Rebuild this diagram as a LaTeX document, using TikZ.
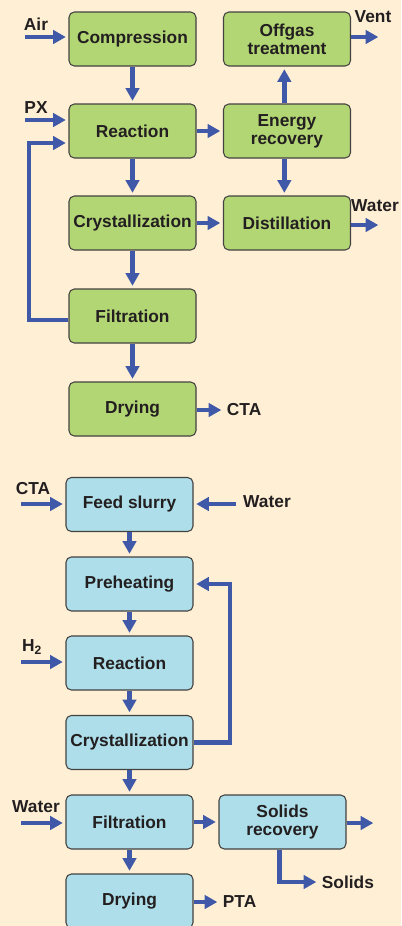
\documentclass[tikz,border=0pt]{standalone}
\usepackage{fontspec}
\setmainfont{Liberation Sans}
\usepackage{tikz}
\usetikzlibrary{arrows.meta}
\definecolor{paper}{HTML}{FFF0D5}
\definecolor{boxgreen}{HTML}{B3D675}
\definecolor{boxblue}{HTML}{ADDEE9}
\definecolor{flowblue}{HTML}{3F58A8}
\definecolor{ink}{HTML}{231F20}

\begin{document}
\begin{tikzpicture}[x=0.75pt, y=-0.75pt,
		every node/.style={font=\bfseries\fontsize{13}{13.3}\selectfont, text=ink},
		unit/.style={draw=ink!85, line width=0.8pt, rounded corners=4pt, minimum width=95.25pt, minimum height=40.5pt, align=center, inner sep=1pt},
		oxunit/.style={unit, fill=boxgreen},
		hyunit/.style={unit, fill=boxblue},
		tag/.style={inner sep=2pt},
		flow/.style={draw=flowblue, line width=3.6pt, -{Triangle[length=9.5pt,width=10pt]}, shorten >=2pt}]
		%%%%% START %%%%%
		
		\fill[paper] (0,0) rectangle (401,926);
		\useasboundingbox (0,0) rectangle (401,926);
		
		% oxidation
		\node[oxunit] (compression) at (132.5, 39) {Compression};
		\node[oxunit] (offgas) at (287, 39) {Offgas\\treatment};
		\node[oxunit] (reaction) at (132.5, 131) {Reaction};
		\node[oxunit] (energy) at (287, 131) {Energy\\recovery};
		\node[oxunit] (crystallization) at (132.5, 223) {Crystallization};
		\node[oxunit] (distillation) at (287, 223) {Distillation};
		\node[oxunit] (filtration) at (132.5, 316) {Filtration};
		\node[oxunit] (drying) at (132.5, 409) {Drying};
		
		\node[tag] (air) at (36, 24) {Air};
		\node[tag] (px) at (36, 108) {PX};
		\node[tag] (vent) at (373, 17) {Vent};
		\node[tag] (waterup) at (375, 206) {Water};
		\node[tag, anchor=west] (cta) at (224, 410) {CTA};
		
		\coordinate (airin) at (25, 37);
		\coordinate (pxin) at (25, 120);
		\coordinate (ventout) at (381, 37);
		\coordinate (waterout) at (381, 225);
		\coordinate (loopa) at (29, 143);
		
		\draw[flow] (airin) -- (airin -| compression.west);
		\draw[flow] (pxin) -- (pxin -| reaction.west);
		\draw[flow] (ventout -| offgas.east) -- (ventout);
		\draw[flow] (waterout -| distillation.east) -- (waterout);
		
		\draw[flow] (compression) -- (reaction);
		\draw[flow] (reaction) -- (crystallization);
		\draw[flow] (crystallization) -- (filtration);
		\draw[flow] (filtration) -- (drying);
		\draw[flow] (reaction) -- (energy);
		\draw[flow] (crystallization) -- (distillation);
		\draw[flow] ([xshift=-2pt]energy.north) -- ([xshift=-2pt]offgas.south);
		\draw[flow] ([xshift=-2pt]energy.south) -- ([xshift=-2pt]distillation.north);
		\draw[flow] ([yshift=-3pt]filtration.west) -| (loopa) |- ([yshift=-9pt]reaction.west);
		\draw[flow] (drying.east |- cta) -- (cta.west);
		
		% hydrogenation
		\node[hyunit] (feed) at (129.5, 504.5) {Feed slurry};
		\node[hyunit] (preheat) at (129.5, 584) {Preheating};
		\node[hyunit] (hreaction) at (129.5, 663) {Reaction};
		\node[hyunit] (hcryst) at (129.5, 742.5) {Crystallization};
		\node[hyunit] (hfilt) at (129.5, 822) {Filtration};
		\node[hyunit] (hdrying) at (129.5, 901) {Drying};
		\node[hyunit] (solidsrec) at (282.5, 822) {Solids\\recovery};
		
		\node[tag] (ctain) at (33, 489) {CTA};
		\node[tag] (waterfeed) at (267, 502) {Water};
		\node[tag] (htwo) at (32, 647) {H\textsubscript{2}};
		\node[tag] (waterwash) at (36, 807) {Water};
		\node[tag, anchor=west] (solids) at (319, 882) {Solids};
		\node[tag, anchor=west] (pta) at (220, 902) {PTA};
		
		\coordinate (ctafeed) at (21, 504);
		\coordinate (waterin) at (236, 504);
		\coordinate (htwoin) at (21, 662);
		\coordinate (washin) at (21, 823);
		\coordinate (mlout) at (376, 823);
		\coordinate (loopb) at (230, 584);
		
		\draw[flow] (ctafeed) -- (ctafeed -| feed.west);
		\draw[flow] (waterin) -- (waterin -| feed.east);
		\draw[flow] (htwoin) -- (htwoin -| hreaction.west);
		\draw[flow] (washin) -- (washin -| hfilt.west);
		
		\draw[flow] (feed) -- (preheat);
		\draw[flow] (preheat) -- (hreaction);
		\draw[flow] (hreaction) -- (hcryst);
		\draw[flow] (hcryst) -- (hfilt);
		\draw[flow] (hfilt) -- (hdrying);
		\draw[flow] (hfilt) -- (solidsrec);
		\draw[flow] (mlout -| solidsrec.east) -- (mlout);
		\draw[flow] (hcryst.east) -| (loopb) |- (preheat.east);
		\draw[flow] ([xshift=-2pt]solidsrec.south) |- (solids.west);
		\draw[flow] (hdrying.east |- pta) -- (pta.west);
		
		%%%%% END %%%%%
	\end{tikzpicture}
\end{document}
